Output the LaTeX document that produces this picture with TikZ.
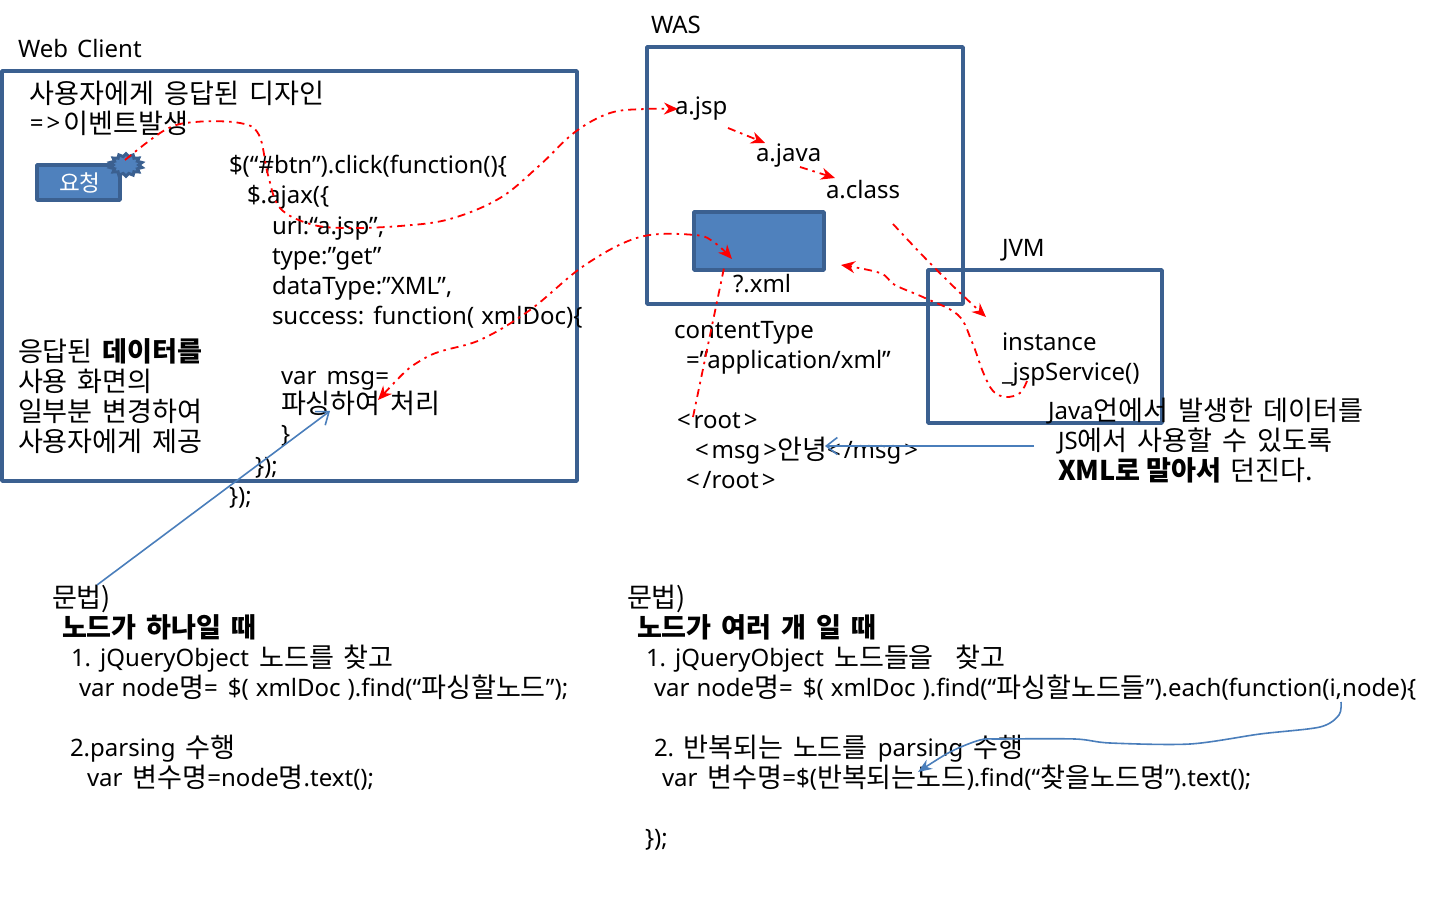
\documentclass[tikz,border=0pt]{standalone}
\usepackage{fontspec}
\usetikzlibrary{arrows.meta,shapes.geometric}
\setmainfont{Noto Sans}
\newfontfamily\kof{Noto Sans CJK KR}[Scale=1.13]
\newcommand{\Kor}[1]{\raisebox{-1.5pt}{\spaceskip=10pt\relax\kof #1}}
\newcommand{\basetype}{\fontsize{24}{28}\selectfont\spaceskip=7pt\relax}
\newcommand{\btntype}{\fontsize{20}{24}\selectfont}
\newcommand{\lk}{\kern3pt\relax}
\newcommand{\wsp}{\hspace{10pt}}
\definecolor{boxline}{HTML}{3B6090}
\definecolor{boxfill}{HTML}{4F81BD}
\definecolor{bluearrow}{HTML}{4A7EBB}
\tikzset{
  txt/.style={anchor=base west,inner sep=0pt,outer sep=0pt,execute at begin node=\basetype},
  frame/.style={draw=boxline,line width=3.5pt,line join=round,inner sep=0pt,outer sep=0pt,anchor=north west},
  solidbox/.style={frame,fill=boxfill},
  redflow/.style={draw=red,line width=1.8pt,dash pattern=on 8pt off 5pt on 2.5pt off 5pt,-{Stealth[length=14pt,width=12pt]}},
  redflowtwo/.style={redflow,{Stealth[length=14pt,width=12pt]}-{Stealth[length=14pt,width=12pt]}},
  redplain/.style={draw=red,line width=1.8pt,dash pattern=on 8pt off 5pt on 2.5pt off 5pt},
  blueopen/.style={draw=bluearrow,line width=1.6pt,-{Straight Barb[length=11pt,width=17pt]}},
  bluefilled/.style={draw=bluearrow,line width=1.6pt,-{Stealth[length=14pt,width=11pt]}},
}
\begin{document}
\begin{tikzpicture}[x=1pt,y=-1pt]
\useasboundingbox (0,0) rectangle (1444,923);
% frames
\node[frame,minimum width=575pt,minimum height=410pt] (client) at (2,71) {};
\node[frame,minimum width=316pt,minimum height=257pt] (was) at (647,47) {};
\node[frame,minimum width=234pt,minimum height=153pt] (jvm) at (928,270) {};
\node[solidbox,minimum width=130pt,minimum height=58pt] (xmlbox) at (694,212) {};
\node[solidbox,minimum width=83pt,minimum height=35pt] (btn) at (37,165) {};
\node[txt,text=white] (btnlabel) at (59,190) {\btntype\Kor{요청}};
\node[draw=boxline,fill=boxfill,line width=3pt,star,star points=14,star point ratio=1.3,inner sep=0pt,minimum size=33pt,yscale=0.68] (burst) at (126,165) {};
% left texts
\node[txt] (t1) at (18,58) {Web\hspace{9pt}Client};
\node[txt] (t2) at (651,34) {WAS};
\node[txt] (t3) at (30,102) {\Kor{사용자에게 응답된 디자인}};
\node[txt] (t4) at (30,132) {=\lk>\lk\Kor{이벤트발생}};
\node[txt] (c1) at (229,174) {\$(“\#btn”).click(function()\{};
\node[txt] (c2) at (247,204) {\$.ajax(\{};
\node[txt] (c3) at (272,234) {url:“a.jsp”,};
\node[txt] (c4) at (272,264) {type:”get”};
\node[txt] (c5) at (272,294) {dataType:”XML”,};
\node[txt] (c6) at (272,324) {success: function( xmlDoc)\{};
\node[txt] (c7) at (281,384) {var\wsp msg=};
\node[txt] (c8) at (281,412) {\Kor{파싱하여 처리}};
\node[txt] (c9) at (281,442) {\}};
\node[txt] (c10) at (255,474) {\});};
\node[txt] (c11) at (229,504) {\});};
\node[txt] (d1) at (18,360) {\Kor{응답된 \bfseries 데이터를}};
\node[txt] (d2) at (18,390) {\Kor{사용 화면의}};
\node[txt] (d3) at (18,420) {\Kor{일부분 변경하여}};
\node[txt] (d4) at (18,450) {\Kor{사용자에게 제공}};
% WAS texts
\node[txt] (ajsp) at (675,115) {a.jsp};
\node[txt] (ajava) at (756,162) {a.java};
\node[txt] (aclass) at (826,199) {a.class};
\node[txt] (qxml) at (733,292) {?.xml};
\node[txt] (ct1) at (674,338) {contentType};
\node[txt] (ct2) at (686,368) {=”application/xml”};
\node[txt] (r1) at (677,428) {<\lk root\lk >};
\node[txt] (r2) at (695,458) {<\lk msg\lk >\Kor{안녕}<\lk /msg\lk >};
\node[txt] (r3) at (686,488) {<\lk /root\lk >};
\node[txt] (jvmlabel) at (1002,256) {JVM};
\node[txt] (inst) at (1002,350) {instance};
\node[txt] (jsp) at (1002,380) {\_jspService()};
\node[txt] (j1) at (1048,419) {Java\Kor{언에서 발생한 데이터를}};
\node[txt] (j2) at (1058,449) {JS\Kor{에서 사용할 수 있도록}};
\node[txt] (j3) at (1058,479) {\Kor{\bfseries XML로\hspace{6pt}말아서}\hspace{9pt}\Kor{던진다.}};
% syntax left
\node[txt] (s1) at (52,606) {\Kor{문법)}};
\node[txt] (s2) at (62,636) {\Kor{\bfseries 노드가 하나일 때}};
\node[txt] (s3) at (71,666) {1. jQueryObject\wsp\Kor{노드를 찾고}};
\node[txt] (s4) at (79,696) {var node\Kor{명}=\wsp\$( xmlDoc ).find(“\Kor{파싱할노드}”);};
\node[txt] (s5) at (70,756) {2.parsing\wsp\Kor{수행}};
\node[txt] (s6) at (87,786) {var\wsp\Kor{변수명}=node\Kor{명}.text();};
% syntax right
\node[txt] (u1) at (627,606) {\Kor{문법)}};
\node[txt] (u2) at (637,636) {\Kor{\bfseries 노드가 여러 개 일 때}};
\node[txt] (u3) at (646,666) {1. jQueryObject\wsp\Kor{노드들을\hspace{22pt}찾고}};
\node[txt] (u4) at (654,696) {var node\Kor{명}=\wsp\$( xmlDoc ).find(“\Kor{파싱할노드들}”).each(function(i,node)\{};
\node[txt] (u5) at (654,756) {2. \Kor{반복되는 노드를}\wsp parsing\wsp\Kor{수행}};
\node[txt] (u6) at (662,786) {var\wsp\Kor{변수명}=\$(\Kor{반복되는노드}).find(“\Kor{찾을노드명}”).text();};
\node[txt] (u7) at (645,846) {\});};
% connector ends
\coordinate (burstout) at (125,160);
\coordinate (jspin) at (678,109);
\coordinate (jspout) at (728,128);
\coordinate (javain) at (765,143);
\coordinate (javaout) at (800,167);
\coordinate (classin) at (835,178);
\coordinate (classout) at (893,224);
\coordinate (instin) at (986,317);
\coordinate (svcout) at (1027,381);
\coordinate (resultin) at (841,265);
\coordinate (rootout) at (693,417);
\coordinate (xmltip) at (732,259);
\coordinate (xmlpass) at (724,268);
\coordinate (msgtip) at (378,400);
\coordinate (syntaxa) at (97,585);
\coordinate (msgb) at (330,411);
\coordinate (notea) at (1034,446);
\coordinate (msgc) at (825,446);
\coordinate (eachout) at (1341,702);
\coordinate (repnode) at (918,772);
% red connectors
\draw[redflow] plot[smooth,tension=0.6] coordinates {(burstout) (165,130) (195,122) (240,123) (259,135) (268,175) (280,208) (310,224) (345,228) (400,226) (450,219) (500,198) (540,165) (575,132) (610,113) (645,109) (jspin)};
\draw[redflow] (jspout) -- (javain);
\draw[redflow] (javaout) -- (classin);
\draw[redflow] plot[smooth,tension=0.6] coordinates {(classout) (925,258) (955,288) (instin)};
\draw[redflow] plot[smooth,tension=0.6] coordinates {(svcout) (1020,393) (1006,397) (993,391) (983,372) (972,342) (958,315) (925,298) (895,285) (880,273) (resultin)};
\draw[redplain] (rootout) -- (xmlpass);
\draw[redflowtwo] plot[smooth,tension=0.6] coordinates {(msgtip) (425,358) (480,340) (530,310) (585,265) (640,237) (695,235) (715,243) (xmltip)};
% blue connectors
\draw[blueopen] (syntaxa) -- (msgb);
\draw[blueopen] (notea) -- (msgc);
\draw[bluefilled] plot[smooth,tension=0.5] coordinates {(eachout) (1339,715) (1320,727) (1260,734) (1190,744) (1110,743) (1075,739) (1000,739) (980,740) (950,752) (repnode)};
\end{tikzpicture}
\end{document}
